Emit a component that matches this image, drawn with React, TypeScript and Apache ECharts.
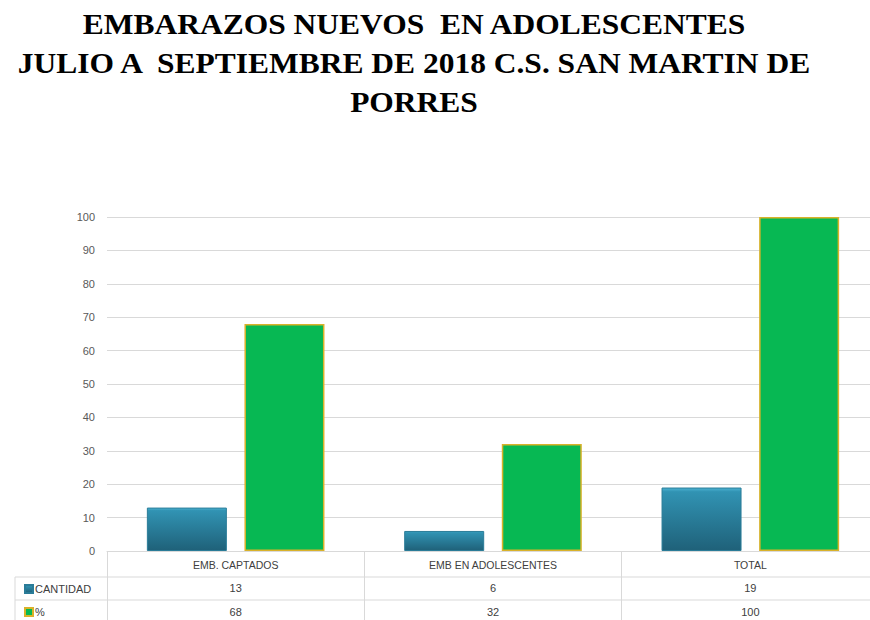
import React, { useEffect, useRef } from "react";
import * as echarts from "echarts";

const titleLines = [
  "EMBARAZOS NUEVOS  EN ADOLESCENTES",
  "JULIO A  SEPTIEMBRE DE 2018 C.S. SAN MARTIN DE",
  "PORRES",
];
const categories = ["EMB. CAPTADOS", "EMB EN ADOLESCENTES", "TOTAL"];
const cantidad = [13, 6, 19];
const porcentaje = [68, 32, 100];
const seriesNames = ["CANTIDAD", "%"];

export default function App() {
  const ref = useRef<HTMLDivElement>(null);
  useEffect(() => {
    if (!ref.current) return;
    const chart = echarts.init(ref.current, null, { renderer: "svg" });
    const tableFont = "'Liberation Sans', Arial, sans-serif";
    const option: any = {
      animation: false,
      backgroundColor: "#ffffff",
      legend: {
        orient: "vertical",
        left: 24,
        top: 583,
        padding: 0,
        itemWidth: 8,
        itemHeight: 8,
        itemGap: 11,
        icon: "rect",
        data: seriesNames,
        textStyle: { fontFamily: tableFont, fontSize: 11, color: "#404040", padding: [0, 0, 0, -3], lineHeight: 12 },
        selectedMode: false,
      },
      grid: { left: 107, top: 217, right: 1, bottom: 69 },
      xAxis: {
        type: "category",
        data: categories,
        axisLine: { show: true, lineStyle: { color: "#d9d9d9" } },
        axisTick: { show: true, length: 70, lineStyle: { color: "#d9d9d9" } },
        axisLabel: {
          margin: 2,
          interval: 0,
          formatter: (v: string, i: number) =>
            `{c|${v}}\n{v|${cantidad[i]}}\n{v|${porcentaje[i]}}`,
          rich: {
            c: { fontFamily: tableFont, fontSize: 10.5, color: "#404040", lineHeight: 23.5 },
            v: { fontFamily: tableFont, fontSize: 11, color: "#404040", lineHeight: 23.5 },
          },
        },
      },
      yAxis: {
        type: "value",
        min: 0,
        max: 100,
        interval: 10,
        axisLine: { show: false },
        axisTick: { show: false },
        axisLabel: { fontFamily: tableFont, fontSize: 11, color: "#595959", margin: 12 },
        splitLine: { lineStyle: { color: "#d9d9d9" } },
      },
      graphic: [
        {
          type: "text",
          x: 414,
          y: 5,
          scaleX: 1.05,
          style: {
            text: titleLines.join("\n"),
            align: "center",
            verticalAlign: "top",
            fontFamily: "'Liberation Serif', 'Times New Roman', serif",
            fontWeight: "bold",
            fontSize: 30,
            lineHeight: 39,
            fill: "#000000",
          },
        },
        { type: "line", shape: { x1: 15, y1: 577, x2: 880, y2: 577 }, style: { stroke: "#d9d9d9", lineWidth: 1 } },
        { type: "line", shape: { x1: 15, y1: 600, x2: 880, y2: 600 }, style: { stroke: "#d9d9d9", lineWidth: 1 } },
        { type: "line", shape: { x1: 15, y1: 577, x2: 15, y2: 620 }, style: { stroke: "#d9d9d9", lineWidth: 1 } },
      ],
      series: [
        {
          name: seriesNames[0],
          type: "bar",
          data: cantidad,
          barWidth: 80,
          barGap: "22%",
          itemStyle: {
            color: new echarts.graphic.LinearGradient(0, 0, 0, 1, [
              { offset: 0, color: "#4cb3d3" },
              { offset: 0.06, color: "#3193b3" },
              { offset: 1, color: "#1f6179" },
            ]),
            borderColor: "#2a7c98",
            borderWidth: 1,
          },
        },
        {
          name: seriesNames[1],
          type: "bar",
          data: porcentaje,
          barWidth: 80,
          barGap: "22%",
          itemStyle: {
            color: "#07b853",
            borderColor: "#d9b22a",
            borderWidth: 1.5,
          },
        },
      ],
    };
    chart.setOption(option);
    return () => chart.dispose();
  }, []);
  return (
    <div
      ref={ref}
      style={{ position: "fixed", left: 0, top: 0, width: 880, height: 620, background: "#fff" }}
    />
  );
}
